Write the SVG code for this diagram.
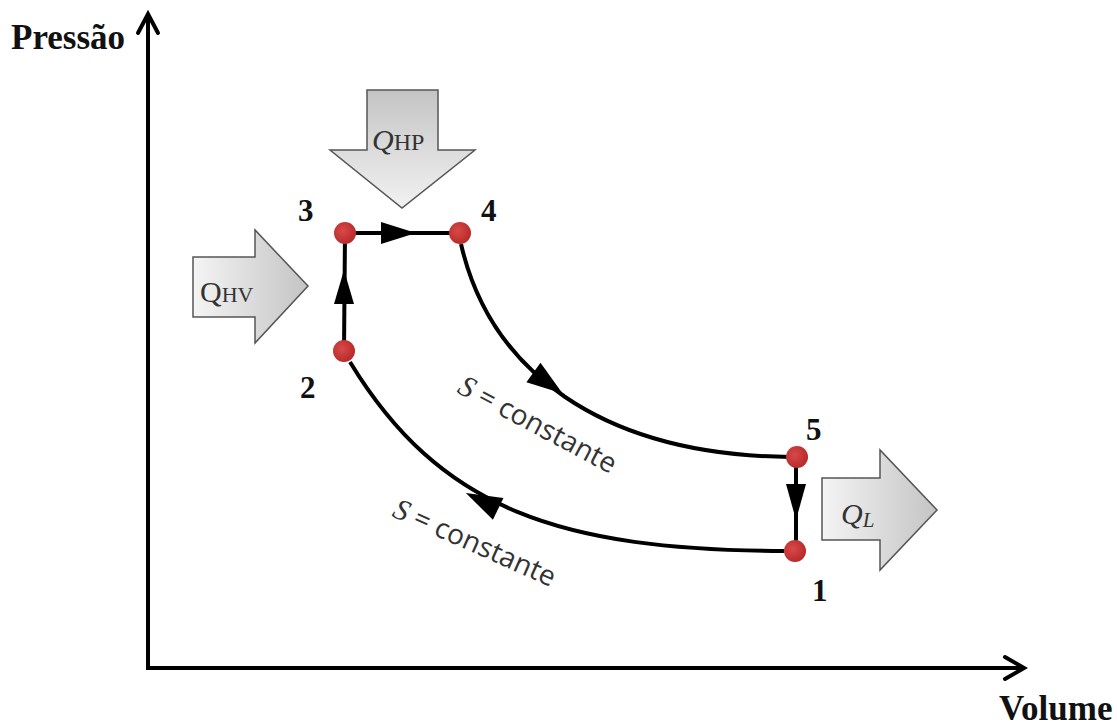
<svg xmlns="http://www.w3.org/2000/svg" width="1117" height="726" viewBox="0 0 1117 726">
<defs>
<linearGradient id="gd" x1="0" y1="0" x2="0" y2="1"><stop offset="0" stop-color="#c4c4c4"/><stop offset="1" stop-color="#f2f2f2"/></linearGradient>
<linearGradient id="gr" x1="0" y1="0" x2="1" y2="0"><stop offset="0" stop-color="#f4f4f4"/><stop offset="1" stop-color="#c4c4c4"/></linearGradient>
<radialGradient id="dot" cx="0.4" cy="0.4" r="0.6"><stop offset="0" stop-color="#d84a4a"/><stop offset="1" stop-color="#b92a2a"/></radialGradient>
</defs>
<style>
.ax{stroke:#000;stroke-width:4;fill:none}
.ah{stroke:#000;stroke-width:4;fill:none;stroke-linecap:round;stroke-linejoin:miter}
.ln{stroke:#000;stroke-width:4;fill:none}
.tri{fill:#000}
.big{stroke:#555;stroke-width:1.5}
.pt{fill:url(#dot)}
.num{font-family:"Liberation Serif",serif;font-weight:bold;font-size:31px;fill:#111}
.axl{font-family:"Liberation Serif",serif;font-weight:bold;font-size:35px;fill:#111}
.q{font-family:"Liberation Serif",serif;font-size:30px;fill:#333}
.s{font-family:"Open Sans","Liberation Sans",sans-serif;font-size:28px;fill:#333}
</style>
<rect width="1117" height="726" fill="#fff"/>
<g id="axes">
<line class="ax" x1="148" y1="670" x2="148" y2="14"/>
<polyline class="ah" points="138,33 148,14 158,33"/>
<line class="ax" x1="146" y1="668" x2="1024" y2="668"/>
<polyline class="ah" points="1005,657 1024,668 1005,679"/>
<text class="axl" x="11" y="49">Pressão</text>
<text class="axl" x="999" y="720">Volume</text>
</g>
<g id="connectors">
<line class="ln" x1="345" y1="233" x2="460" y2="233"/>
<polygon class="tri" points="381,222 416,233 381,244"/>
<line class="ln" x1="344" y1="351" x2="345" y2="233"/>
<polygon class="tri" points="334,304 344,270 354,304"/>
<line class="ln" x1="796" y1="457" x2="796" y2="551"/>
<polygon class="tri" points="786,484 796,520 806,484"/>
<path class="ln" d="M 461 244 C 490 370, 600 455, 790 457"/>
<polygon class="tri" points="-18,-12 18,0 -18,12" transform="translate(548,383) rotate(36)"/>
<path class="ln" d="M 784 551 C 560 550, 440 510, 350 362"/>
<polygon class="tri" points="-18,-12 18,0 -18,12" transform="translate(482,501) rotate(206)"/>
<text class="s" transform="translate(456,392) rotate(28)"><tspan font-family="Liberation Serif,serif" font-style="italic" font-size="30">S</tspan> = constante</text>
<text class="s" transform="translate(391,516) rotate(24)"><tspan font-family="Liberation Serif,serif" font-style="italic" font-size="30">S</tspan> = constante</text>
</g>
<g id="QHP">
<polygon class="big" fill="url(#gd)" points="367,90 438,90 438,150 475,150 402,208 330,150 367,150"/>
<text class="q" x="372" y="150"><tspan font-style="italic">Q</tspan><tspan font-size="24">HP</tspan></text>
</g>
<g id="QHV">
<polygon class="big" fill="url(#gr)" points="193,257 255,257 255,230 308,286 255,343 255,317 193,317"/>
<text class="q" x="200" y="302" font-size="31">Q<tspan font-size="22">HV</tspan></text>
</g>
<g id="QL">
<polygon class="big" fill="url(#gr)" points="822,478 880,478 880,450 937,510 880,570 880,540 822,540"/>
<text class="q" x="841" y="524"><tspan font-style="italic">Q</tspan><tspan font-style="italic" font-size="21" dy="3">L</tspan></text>
</g>
<g id="p3"><circle class="pt" cx="345" cy="233" r="11"/><text class="num" x="298" y="221">3</text></g>
<g id="p4"><circle class="pt" cx="460" cy="233" r="11"/><text class="num" x="481" y="221">4</text></g>
<g id="p2"><circle class="pt" cx="344" cy="351" r="11"/><text class="num" x="300" y="398">2</text></g>
<g id="p5"><circle class="pt" cx="797" cy="457" r="11"/><text class="num" x="806" y="440">5</text></g>
<g id="p1"><circle class="pt" cx="795" cy="551" r="11"/><text class="num" x="812" y="601">1</text></g>
</svg>
